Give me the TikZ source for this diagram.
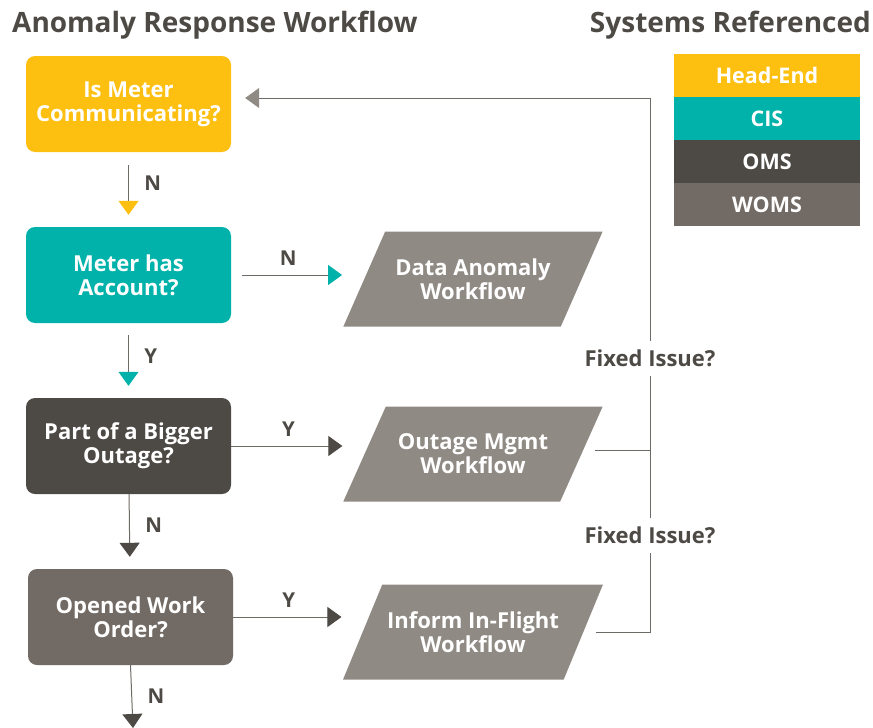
\documentclass[tikz,border=0pt]{standalone}
\usepackage{fontspec}
\setmainfont{Open Sans}
\usetikzlibrary{arrows.meta,shapes.geometric}

\definecolor{headyellow}{HTML}{FDC010}
\definecolor{cisteal}{HTML}{00B2A9}
\definecolor{omsdark}{HTML}{4D4A45}
\definecolor{womsgray}{HTML}{726A64}
\definecolor{flowgray}{HTML}{908A84}
\definecolor{linegray}{HTML}{6E6A66}

\begin{document}
\begin{tikzpicture}[
      x=1pt, y=-1pt,
      node distance=171pt,
      main node/.style={fill=#1, rounded corners=9pt, align=center, minimum width=205pt, minimum height=96pt, text=white, font=\bfseries\fontsize{22}{24}\selectfont},
      flow node/.style={trapezium, trapezium left angle=67, trapezium right angle=113, trapezium stretches=true, fill=flowgray, align=center, inner ysep=25pt, minimum width=260pt, minimum height=95pt, text=white, font=\bfseries\fontsize{22}{24}\selectfont},
      legend node/.style={fill=#1, minimum width=186pt, minimum height=43pt, inner sep=0pt, text=white, font=\bfseries\fontsize{21.5}{24}\selectfont},
      title node/.style={text=omsdark, inner sep=0pt, font=\bfseries\fontsize{28}{32}\selectfont},
      edge label/.style={text=omsdark, font=\bfseries\fontsize{20.5}{22}\selectfont},
      fixed label/.style={fill=white, text=omsdark, inner xsep=2pt, inner ysep=9pt, font=\bfseries\fontsize{22}{24}\selectfont},
      link/.style={draw=linegray, line width=1pt},
      tipped/.style={-{Triangle[width=20pt,length=14pt,color=#1]}}
    ]
    \useasboundingbox (0,0) rectangle (873,728);

    % Titles
    \node (title) [title node, anchor=base west] at (12,32) {Anomaly Response Workflow};
    \node (systems) [title node, anchor=base east] at (871,32) {Systems Referenced};

    % Legend
    \node (headend) [legend node=headyellow] at (767,75.5) {Head-End};
    \node (cis) [legend node=cisteal, below of=headend, node distance=43pt] {CIS};
    \node (oms) [legend node=omsdark, below of=cis, node distance=43pt] {OMS};
    \node (woms) [legend node=womsgray, below of=oms, node distance=43pt] {WOMS};

    % Decision boxes
    \node (meter) [main node=headyellow] at (128.5,104) {Is Meter\\Communicating?};
    \node (account) [main node=cisteal, below of=meter] {Meter has\\Account?};
    \node (outage) [main node=omsdark, below of=account] {Part of a Bigger\\Outage?};
    \node (workorder) [main node=womsgray, below of=outage, xshift=2pt] {Opened Work\\Order?};
    \coordinate (exit) at (133,728);

    % Workflows
    \node (anomaly) [flow node, right of=account, node distance=344.5pt, yshift=-4pt] {Data Anomaly\\Workflow};
    \node (outagewf) [flow node, right of=outage, node distance=344.5pt, yshift=-8pt] {Outage Mgmt\\Workflow};
    \node (inflight) [flow node, right of=workorder, node distance=342.5pt, yshift=-15pt] {Inform In-Flight\\Workflow};

    % Downward answers
    \draw[link, tipped=headyellow, shorten <=13pt, shorten >=12pt] (meter) -- node[edge label, right=12pt, yshift=6pt] {N} (account);
    \draw[link, tipped=cisteal, shorten <=12pt, shorten >=12pt] (account) -- node[edge label, right=12pt, yshift=4pt] {Y} (outage);
    \draw[link, tipped=omsdark, shorten >=12pt] (outage) -- node[edge label, right=12pt, yshift=6pt] {N} (workorder);
    \draw[link, tipped=omsdark] (workorder.south) -- node[edge label, right=12pt] {N} (exit);

    % Sideways answers
    \draw[link, tipped=cisteal, shorten <=11pt, shorten >=22pt] (account.east) -- node[edge label, above=6pt, pos=0.43] {N} (account.east -| anomaly.west);
    \draw[link, tipped=omsdark, shorten >=22pt] (outage.east) -- node[edge label, above=6pt, pos=0.43] {Y} (outage.east -| outagewf.west);
    \draw[link, tipped=omsdark, shorten >=21pt] (workorder.east) -- node[edge label, above=6pt, pos=0.43] {Y} (workorder.east -| inflight.west);

    % Feedback to the start
    \coordinate (loop) at (650,98);
    \draw[link, tipped=flowgray, shorten <=12pt, shorten >=14pt] (outagewf.2) -| (loop) -- (meter.east |- loop);
    \draw[link, shorten <=12pt] (inflight.east) -| (loop);
    \node (fixed1) [fixed label] at (650,358) {Fixed Issue?};
    \node (fixed2) [fixed label] at (650,535) {Fixed Issue?};
  \end{tikzpicture}
\end{document}
